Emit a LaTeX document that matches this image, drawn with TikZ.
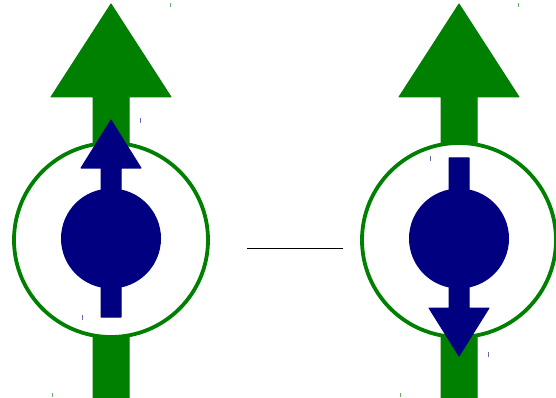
\documentclass[tikz,border=0pt]{standalone}
\usetikzlibrary{calc}
\definecolor{spingreen}{HTML}{008000}
\definecolor{spinblue}{HTML}{000080}
\tikzset{
  x=1pt, y=-1pt,
  fieldarrow/.style={fill=spingreen, draw=spingreen, line width=1pt, line join=round},
  shell/.style={draw=spingreen, line width=3.8pt, fill=white},
  spinarrow/.style={fill=spinblue, draw=spinblue, line width=1pt, line join=round},
  core/.style={fill=spinblue},
  tick/.style={line width=1pt, opacity=0.6},
}
\begin{document}
\begin{tikzpicture}
\useasboundingbox[fill=white] (0,0) rectangle (556,398);

% ---------- left particle: spin aligned with the field ----------
% field arrow (up)
\path[fieldarrow] (93,398) -- (93,97) -- (51,97) -- (111,4) -- (171,97) -- (129,97) -- (129,398) -- cycle;
% shell
\draw[shell] (111,240) circle[radius=97];
% spin arrow (up)
\path[spinarrow] (101,317) -- (101,168) -- (81,168) -- (111,120) -- (141,168) -- (121,168) -- (121,317) -- cycle;
% core
\fill[core] (111,238.5) circle[radius=50];
% small marks
\draw[tick, spingreen] (170,3) -- (170,7);
\draw[tick, spingreen] (52,393) -- (52,397);
\draw[tick, spinblue] (140,118) -- (140,123);
\draw[tick, spinblue] (82,315) -- (82,320);

% ---------- right particle: spin opposed to the field ----------
% field arrow (up)
\path[fieldarrow] (441,398) -- (441,97) -- (399,97) -- (459,4) -- (519,97) -- (477,97) -- (477,398) -- cycle;
% shell
\draw[shell] (459,240) circle[radius=97];
% spin arrow (down)
\path[spinarrow] (449,158) -- (469,158) -- (469,308) -- (489,308) -- (459,356) -- (429,308) -- (449,308) -- cycle;
% core
\fill[core] (459,238.5) circle[radius=50];
% small marks
\draw[tick, spingreen] (518,3) -- (518,7);
\draw[tick, spingreen] (400,393) -- (400,397);
\draw[tick, spinblue] (430,156) -- (430,161);
\draw[tick, spinblue] (488,352) -- (488,357);

% ---------- separator ----------
\coordinate (sepL) at (247,248);
\coordinate (sepR) at (343,248);
\draw[line width=1pt] (sepL) -- (sepR);
\end{tikzpicture}
\end{document}
